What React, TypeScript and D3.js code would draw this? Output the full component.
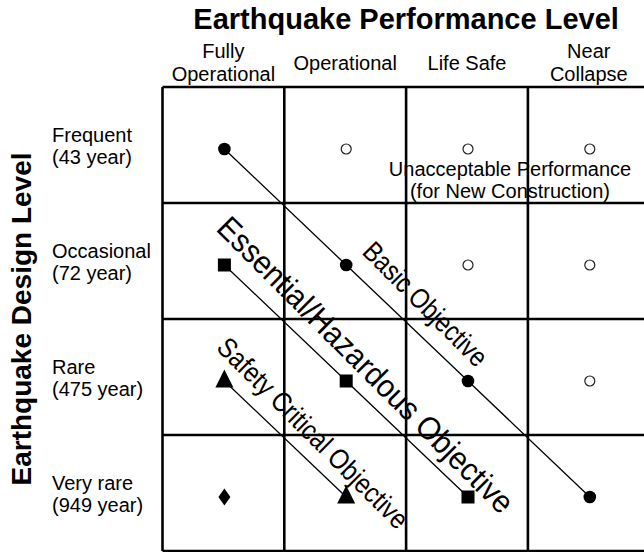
import React from "react";
import * as d3 from "d3";

// ---- data ----
const performanceLevels = ["Fully Operational", "Operational", "Life Safe", "Near Collapse"];
const performanceLabels = [["Fully", "Operational"], ["Operational"], ["Life Safe"], ["Near", "Collapse"]];
const designLevels = ["Frequent", "Occasional", "Rare", "Very rare"];
const designLabels = [["Frequent", "(43 year)"], ["Occasional", "(72 year)"], ["Rare", "(475 year)"], ["Very rare", "(949 year)"]];

const basicObjective: [string, string][] = [
  ["Fully Operational", "Frequent"],
  ["Operational", "Occasional"],
  ["Life Safe", "Rare"],
  ["Near Collapse", "Very rare"],
];
const essentialObjective: [string, string][] = [
  ["Fully Operational", "Occasional"],
  ["Operational", "Rare"],
  ["Life Safe", "Very rare"],
];
const safetyCriticalObjective: [string, string][] = [
  ["Fully Operational", "Rare"],
  ["Operational", "Very rare"],
];
const otherPoint: [string, string][] = [["Fully Operational", "Very rare"]];
const unacceptable: [string, string][] = [
  ["Operational", "Frequent"],
  ["Life Safe", "Frequent"],
  ["Near Collapse", "Frequent"],
  ["Life Safe", "Occasional"],
  ["Near Collapse", "Occasional"],
  ["Near Collapse", "Rare"],
];
// label anchors in grid units [column, row]
const objectiveLabels = [
  { text: "Basic Objective", at: [2.155, 1.875], size: 28, len: 163 },
  { text: "Essential/Hazardous Objective", at: [1.663, 2.4], size: 32, len: 404 },
  { text: "Safety Critical Objective", at: [1.232, 2.987], size: 28, len: 257 },
];
const unacceptableLabel = { lines: ["Unacceptable Performance", "(for New Construction)"], at: [2.853, 0.77] };

const W = 644;
const H = 552;
const left = 162.5;
const right = 649.7;
const top = 87;
const bottom = 551;
const FONT = "'Liberation Sans', Arial, Helvetica, sans-serif";

export default function App() {
  const x = d3.scaleBand<string>().domain(performanceLevels).range([left, right]);
  const y = d3.scaleBand<string>().domain(designLevels).range([top, bottom]);
  const gx = d3.scaleLinear().domain([0, 4]).range([left, right]);
  const gy = d3.scaleLinear().domain([0, 4]).range([top, bottom]);
  const px = (c: string) => (x(c) as number) + x.bandwidth() / 2 + 1;
  const py = (r: string) => (y(r) as number) + y.bandwidth() / 2 + 4;
  const line = d3
    .line<[string, string]>()
    .x((d) => px(d[0]))
    .y((d) => py(d[1]));

  const vEdges = d3.range(5).map((i) => gx(i));
  const hEdges = d3.range(5).map((i) => gy(i));

  return (
    <div style={{ position: "fixed", left: 0, top: 0, background: "#fff" }}>
      <svg width={W} height={H} style={{ display: "block", fontFamily: FONT }}>
        <rect x={0} y={0} width={W} height={H} fill="#fff" />
        {/* title */}
        <text x={(left + right) / 2} y={29} textAnchor="middle" fontSize={29} fontWeight="bold">
          Earthquake Performance Level
        </text>
        <text
          transform={`translate(31,${(top + bottom) / 2}) rotate(-90)`}
          textAnchor="middle"
          fontSize={28}
          fontWeight="bold"
        >
          Earthquake Design Level
        </text>
        {/* column labels */}
        {performanceLevels.map((c, i) => {
          const lines = performanceLabels[i];
          const cx = (x(c) as number) + x.bandwidth() / 2;
          const ys = lines.length === 2 ? [top - 29, top - 6] : [top - 17];
          return lines.map((t, j) => (
            <text key={c + j} x={cx} y={ys[j]} textAnchor="middle" fontSize={20}>
              {t}
            </text>
          ));
        })}
        {/* row labels */}
        {designLevels.map((r, i) => {
          const cy = (y(r) as number) + y.bandwidth() / 2;
          return designLabels[i].map((t, j) => (
            <text key={r + j} x={52} y={cy - 3 + j * 22} fontSize={20}>
              {t}
            </text>
          ));
        })}
        {/* grid */}
        {vEdges.map((v, i) => (
          <line key={"v" + i} x1={v} x2={v} y1={top} y2={bottom} stroke="#000" strokeWidth={2.6} />
        ))}
        {hEdges.map((h, i) => (
          <line key={"h" + i} x1={left} x2={right} y1={h} y2={h} stroke="#000" strokeWidth={2.6} />
        ))}
        {/* objective lines */}
        {[basicObjective, essentialObjective, safetyCriticalObjective].map((pts, i) => (
          <path key={"l" + i} d={line(pts) || ""} fill="none" stroke="#000" strokeWidth={1.3} />
        ))}
        {/* unacceptable open circles */}
        {unacceptable.map((d, i) => (
          <circle key={"o" + i} cx={px(d[0])} cy={py(d[1])} r={5} fill="#fff" stroke="#222" strokeWidth={1.2} />
        ))}
        {/* basic: filled circles */}
        {basicObjective.map((d, i) => (
          <circle key={"b" + i} cx={px(d[0])} cy={py(d[1])} r={6.3} fill="#000" />
        ))}
        {/* essential: squares */}
        {essentialObjective.map((d, i) => (
          <rect key={"s" + i} x={px(d[0]) - 6.5} y={py(d[1]) - 6.5} width={13} height={13} fill="#000" />
        ))}
        {/* safety critical: triangles */}
        {safetyCriticalObjective.map((d, i) => {
          const cx = px(d[0]);
          const cy = py(d[1]);
          return (
            <path key={"t" + i} d={`M${cx},${cy - 11.5}L${cx + 9},${cy + 6.5}L${cx - 9},${cy + 6.5}Z`} fill="#000" />
          );
        })}
        {/* diamond */}
        {otherPoint.map((d, i) => {
          const cx = px(d[0]);
          const cy = py(d[1]);
          return (
            <path key={"d" + i} d={`M${cx},${cy - 8.5}L${cx + 6},${cy}L${cx},${cy + 8.5}L${cx - 6},${cy}Z`} fill="#000" />
          );
        })}
        {/* unacceptable label */}
        {unacceptableLabel.lines.map((t, j) => (
          <text
            key={"u" + j}
            x={gx(unacceptableLabel.at[0])}
            y={gy(unacceptableLabel.at[1]) + j * 21.5}
            textAnchor="middle"
            fontSize={20}
          >
            {t}
          </text>
        ))}
        {/* objective labels */}
        {objectiveLabels.map((o) => (
          <text
            key={o.text}
            transform={`translate(${gx(o.at[0])},${gy(o.at[1])}) rotate(45)`}
            textAnchor="middle"
            dy="0.32em"
            fontSize={o.size}
            textLength={o.len}
            lengthAdjust="spacingAndGlyphs"
          >
            {o.text}
          </text>
        ))}
      </svg>
    </div>
  );
}
